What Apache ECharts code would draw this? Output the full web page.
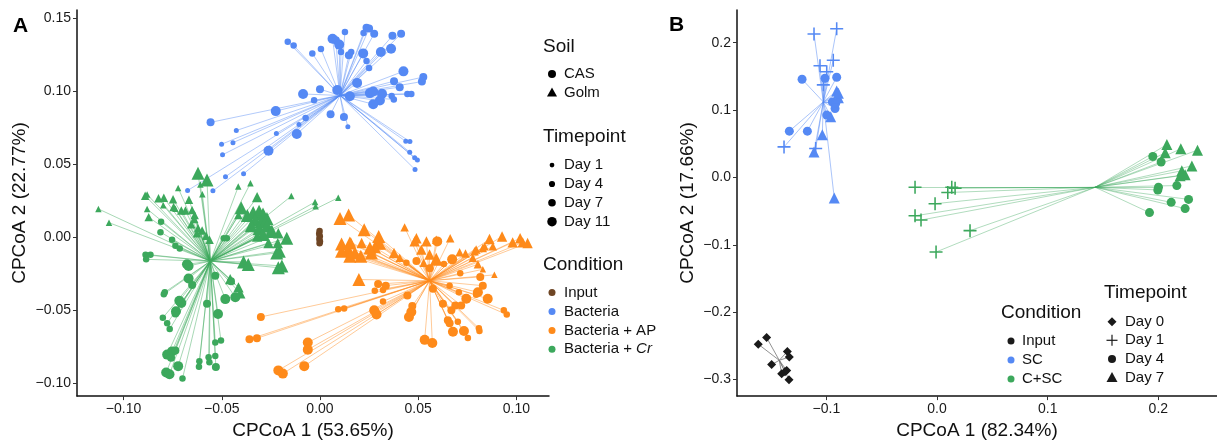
<!DOCTYPE html>
<html><head><meta charset="utf-8">
<script src="https://cdn.jsdelivr.net/npm/echarts@6/dist/echarts.min.js"></script>
<style>html,body{margin:0;padding:0;background:#fff}#chart{width:1217px;height:445px}</style>
</head><body><div id="chart"></div>
<script>
// ---------------- Panel A data: [CPCoA1, CPCoA2, day] ----------------
const bacteriaCAS = [
[-0.0164,0.134,4],[-0.0134,0.1314,4],[-0.0039,0.126,4],[0.0005,0.129,4],[0.0064,0.136,11],[0.0081,0.135,7],
[0.0098,0.132,11],[0.0107,0.127,4],[0.0127,0.1406,4],[0.0147,0.1247,7],[0.0159,0.1269,4],[0.022,0.126,11],
[0.0222,0.140,4],[0.0237,0.1435,7],[0.025,0.143,7],[0.0276,0.1395,7],[0.0237,0.1208,4],[0.025,0.116,4],
[0.031,0.127,11],[0.0362,0.1292,11],[0.0369,0.138,7],[0.0413,0.1395,7],[0.0425,0.1137,11],[0.0377,0.107,7],
[0.0406,0.1029,7],[0.0526,0.1098,7],[0.0519,0.1067,7],[0.0445,0.0982,4],[0.0465,0.0982,4],[0.0365,0.0968,4],
[0.0376,0.0945,4],[0.0316,0.0984,11],[0.0305,0.0937,11],[0.0271,0.0912,11],[0.0254,0.0988,11],[0.0271,0.0999,11],
[0.0189,0.1058,11],[0.0152,0.0966,11],[0.0088,0.1009,11],[-0.0086,0.0982,11],[-0.003,0.0939,4],[0.0054,0.0844,7],
[0.0122,0.0824,7],[0.0142,0.0757,1],[-0.0225,0.0865,11],[-0.0073,0.0817,4],[-0.0107,0.0773,1],[-0.0118,0.0708,11],
[-0.0222,0.0712,1],[-0.0262,0.0593,11],[0.0437,0.0658,1],[0.0458,0.0656,1],[0.0457,0.0584,1],[0.0482,0.0546,1],
[0.0496,0.053,1],[0.0484,0.0465,1],[-0.0557,0.0788,7],[-0.0426,0.0732,1],[-0.0501,0.0638,1],[-0.0443,0.0649,1],
[-0.0496,0.0566,1],[-0.0389,0.0436,1],[-0.0481,0.0416,1],[-0.0545,0.0319,1],[-0.0674,0.0321,1],[0.0,0.1015,7]
];
const crGolm = [
[-0.0621,0.044,11],[-0.0575,0.0393,11],[-0.0722,0.0339,1],[-0.0609,0.0362,1],[-0.0599,0.0296,1],[-0.0416,0.0348,1],
[-0.0354,0.0371,1],[-0.032,0.0276,7],[-0.0146,0.0283,1],[-0.089,0.0285,4],[-0.0822,0.0268,4],[-0.0795,0.0272,4],
[-0.0748,0.0261,4],[-0.0667,0.0258,4],[-0.088,0.0294,1],[-0.1128,0.0195,1],[-0.1074,0.0101,1],[-0.0401,0.0204,11],
[-0.088,0.0195,1],[-0.0872,0.0139,4],[-0.0745,0.0209,4],[-0.0706,0.0184,4],[-0.0685,0.0184,4],[-0.0651,0.0187,4],
[-0.0638,0.0153,4],[-0.0025,0.0243,1],[-0.0022,0.0214,1],[0.0093,0.0272,1],[-0.0798,0.022,1],[-0.0736,0.0197,1],
[-0.064,0.0126,4],[-0.0655,0.009,4],[-0.0621,0.0063,4],[-0.06,0.0047,4],[-0.0626,0.0029,4],[-0.058,0.0011,4],
[-0.0562,-0.0016,4],[-0.0415,0.0153,4],[-0.0398,0.0187,4],[-0.037,0.015,11],[-0.034,0.017,11],[-0.031,0.018,11],
[-0.029,0.016,11],[-0.033,0.012,11],[-0.030,0.011,11],[-0.027,0.013,11],[-0.035,0.008,11],[-0.031,0.006,11],
[-0.027,0.008,11],[-0.025,0.004,11],[-0.029,0.002,11],[-0.0212,0.0029,7],[-0.0169,-0.0005,11],[-0.022,-0.0106,11],
[-0.0207,-0.0094,11],[-0.0194,-0.0195,11],[-0.0389,-0.0168,11],[-0.0457,-0.0285,7],[-0.0415,-0.0342,7],
[-0.0406,-0.0382,7],[-0.0365,-0.0185,11],[-0.0212,-0.0207,11],[-0.0215,-0.0039,7],[-0.0262,-0.0038,7],
[-0.0245,0.0052,7],[-0.032,0.0007,7]
];
const crCAS = [
[-0.0809,0.0108,4],[-0.0812,0.0036,4],[-0.0753,-0.0016,4],[-0.0736,-0.0056,4],[-0.0714,-0.0076,4],[-0.0888,-0.0119,4],
[-0.0863,-0.0119,4],[-0.0885,-0.015,4],[-0.0677,-0.0184,11],[-0.0669,-0.0195,11],[-0.0669,-0.0281,11],[-0.0651,-0.0326,7],
[-0.049,-0.0005,4],[-0.0474,-0.0005,4],[-0.0533,-0.0263,7],[-0.079,-0.0375,4],[-0.0795,-0.0389,4],[-0.0716,-0.0433,11],
[-0.0706,-0.0449,11],[-0.0733,-0.0505,11],[-0.0736,-0.0521,7],[-0.08,-0.055,4],[-0.0778,-0.0588,4],[-0.0765,-0.0627,4],
[-0.0575,-0.0454,7],[-0.0519,-0.0524,11],[-0.0482,-0.0422,11],[-0.0431,-0.0409,11],[-0.0453,-0.0299,7],[-0.0504,-0.0706,4],
[-0.0533,-0.0719,4],[-0.0533,-0.0811,4],[-0.0567,-0.082,4],[-0.0563,-0.0854,4],[-0.053,-0.0887,7],[-0.0614,-0.0847,4],
[-0.0616,-0.0885,4],[-0.0778,-0.0802,11],[-0.0753,-0.078,11],[-0.0736,-0.0773,7],[-0.0758,-0.0824,7],[-0.0722,-0.0881,11],
[-0.0783,-0.0925,11],[-0.0766,-0.0937,11],[-0.07,-0.0966,4]
];
const apGolm = [
[0.0102,0.013,11],[0.0146,0.0153,11],[0.0225,0.0052,11],[0.0198,-0.0288,11],[0.0431,0.0069,4],[0.011,-0.0045,11],
[0.0152,-0.0038,11],[0.0144,-0.0083,11],[0.011,-0.0094,11],[0.0299,0.0007,11],[0.0291,-0.0038,11],[0.0284,-0.0072,7],
[0.031,-0.0049,7],[0.0254,-0.0072,11],[0.0157,-0.0034,7],[0.0212,-0.0038,7],[0.0178,-0.0106,11],[0.0152,-0.0128,11],
[0.0208,-0.0128,11],[0.0262,-0.0106,11],[0.0377,-0.0106,7],[0.0406,-0.0139,4],[0.0491,-0.0005,7],[0.0482,-0.0027,7],
[0.0542,-0.0027,7],[0.0592,-0.0016,4],[0.0663,-0.0005,4],[0.0592,-0.015,11],[0.0558,-0.0117,7],[0.0516,-0.0083,7],
[0.0528,-0.0173,4],[0.0863,-0.0011,7],[0.0927,0.0007,7],[0.0981,-0.0034,7],[0.1032,-0.0034,7],[0.1057,-0.0038,7],
[0.1019,-0.0005,7],[0.088,-0.0061,4],[0.0829,-0.0072,4],[0.0795,-0.0083,4],[0.0778,-0.0139,4],[0.0804,-0.0184,4],
[0.0888,-0.0256,1],[0.0829,-0.0218,1],[0.0838,-0.0061,4],[0.0787,-0.0094,4],[0.0741,-0.011,4],[0.0711,-0.0101,4]
];
const apCAS = [
[0.0597,-0.0027,11],[0.0673,-0.015,11],[0.0491,-0.0161,7],[0.044,-0.0173,4],[0.0816,-0.027,7],[0.0829,-0.033,7],
[0.0854,-0.042,11],[0.0804,-0.0375,11],[0.0714,-0.0245,4],[0.0575,-0.0352,7],[0.0626,-0.0454,7],[0.0669,-0.0499,7],
[0.0689,-0.0465,7],[0.0719,-0.0465,7],[0.0745,-0.042,11],[0.0651,-0.0566,7],[0.066,-0.0588,7],[0.0702,-0.0577,4],
[0.0677,-0.0645,11],[0.0733,-0.064,11],[0.0753,-0.0689,4],[0.0809,-0.0622,4],[0.0812,-0.064,4],[0.0936,-0.0499,4],
[0.0951,-0.0528,4],[0.0533,-0.0701,11],[0.0572,-0.0723,11],[0.0296,-0.0319,7],[0.0335,-0.033,7],[0.0279,-0.0364,4],
[0.0321,-0.0359,4],[0.0445,-0.0398,7],[0.0321,-0.0438,4],[0.0276,-0.0499,11],[0.0288,-0.0528,11],[0.047,-0.047,7],
[0.0465,-0.051,11],[0.0453,-0.0544,11],[0.0093,-0.0492,4],[0.0123,-0.0487,4],[-0.0062,-0.0719,11],[-0.0062,-0.0768,11],
[-0.008,-0.0881,11],[-0.0212,-0.091,11],[-0.0189,-0.0932,11],[0.0559,-0.0211,7],[0.0631,-0.0182,4],[0.066,-0.033,4],
[-0.0301,-0.0544,7],[-0.0359,-0.0696,7],[-0.0321,-0.069,7],[0.0707,-0.0375,4],[0.0795,-0.0393,4]
];
const inputA = [[-0.0002,0.0045,4],[-0.0004,0.0025,4],[-0.0001,0.0008,4],[-0.0003,-0.001,4],[0.0,-0.0028,4],[-0.0002,-0.004,4]];
const centroidBacteria = [0.0102, 0.0972];
const centroidAP = [0.0558, -0.0296];
const centroidCr = [-0.0558, -0.0162];
const centroidInputA = [-0.0002, 0.0];

// ---------------- Panel B data: [CPCoA1, CPCoA2] ----------------
const scDay1 = [[-0.1112,0.213],[-0.0907,0.2208],[-0.1058,0.1657],[-0.0938,0.174],[-0.0997,0.1569],[-0.1028,0.1374],[-0.1383,0.0453],[-0.1097,0.0429]];
const scDay4 = [[-0.122,0.1457],[-0.1013,0.1472],[-0.0907,0.1487],[-0.1335,0.0687],[-0.1172,0.0687],[-0.0997,0.0925],[-0.0946,0.1121],[-0.0922,0.1023],[-0.0916,0.11]];
const scDay7 = [[-0.0907,0.1282],[-0.0892,0.1184],[-0.0961,0.0902],[-0.1037,0.0633],[-0.1112,0.0376],[-0.0929,-0.0307],[-0.0892,0.125]];
const cscDay1 = [[-0.0199,-0.0146],[0.0133,-0.0146],[0.0163,-0.0161],[0.0097,-0.0224],[-0.0018,-0.039],[-0.0199,-0.057],[-0.0145,-0.0633],[0.0298,-0.079],[-0.0009,-0.1107]];
const cscDay4 = [[0.195,0.0311],[0.2025,0.0229],[0.2001,-0.0146],[0.1995,-0.0186],[0.2167,-0.0121],[0.2116,-0.037],[0.2273,-0.0326],[0.2242,-0.0463],[0.192,-0.0522]];
const cscDay7 = [[0.2077,0.0487],[0.2062,0.0365],[0.2203,0.0424],[0.2354,0.0405],[0.2303,0.0171],[0.2212,0.0098],[0.2242,0.004],[0.2197,0.0025]];
const inputDay0 = [[-0.1616,-0.2475],[-0.154,-0.2378],[-0.1495,-0.2778],[-0.1353,-0.2583],[-0.1335,-0.2666],[-0.1404,-0.2914],[-0.1374,-0.2885],[-0.1359,-0.2865],[-0.1338,-0.3002]];
const centroidSC = [-0.1028, 0.1121];
const centroidCSC = [0.1429, -0.0146];
const centroidInputB = [-0.1426, -0.2715];

// ---------------- ticks & labels ----------------
const ticksAx = [-0.10, -0.05, 0, 0.05, 0.10];
const ticksAy = [-0.10, -0.05, 0, 0.05, 0.10, 0.15];
const ticksBx = [-0.1, 0, 0.1, 0.2];
const ticksBy = [-0.3, -0.2, -0.1, 0, 0.1, 0.2];
const soilLabels = ['CAS', 'Golm'];
const timepointLabelsA = ['Day 1', 'Day 4', 'Day 7', 'Day 11'];
const conditionLabelsA = ['Input', 'Bacteria', 'Bacteria + AP', 'Bacteria + {i|Cr}'];
const conditionLabelsB = ['Input', 'SC', 'C+SC'];
const timepointLabelsB = ['Day 0', 'Day 1', 'Day 4', 'Day 7'];

const BLUE = '#5589F4', ORANGE = '#FE8A1A', GREEN = '#3CA85C', BROWN = '#6E4524', BLACK = '#1a1a1a';
const FONT = '"Liberation Sans", Arial, Helvetica, sans-serif';
const sizeA = {1: 5, 4: 6.5, 7: 8, 11: 10};
const PLUS = 'path://M4.4,0H5.6V4.4H10V5.6H5.6V10H4.4V5.6H0V4.4H4.4Z';

function fmt(d) { return v => (v < -1e-9 ? '\u2212' : '') + Math.abs(v).toFixed(d); }
function spider(data, c, color, idx, op) {
  return { type: 'lines', coordinateSystem: 'cartesian2d', xAxisIndex: idx, yAxisIndex: idx, silent: true, z: 2,
    data: data.map(p => ({ coords: [c, [p[0], p[1]]] })),
    lineStyle: { color: color, width: 1, opacity: op, curveness: 0 } };
}
function scatA(data, color, tri) {
  return { type: 'scatter', xAxisIndex: 0, yAxisIndex: 0, z: 3, data: data,
    symbol: tri ? 'triangle' : 'circle',
    symbolSize: v => sizeA[v[2]] * (tri ? 1.3 : 1),
    itemStyle: { color: color, opacity: 1 } };
}
function scatB(data, color, symbol, size) {
  return { type: 'scatter', xAxisIndex: 1, yAxisIndex: 1, z: 3, data: data, symbol: symbol, symbolSize: size,
    itemStyle: { color: color, opacity: 1 } };
}
function axis(grid, min, max, ticks, dec, name, gap, isY) {
  return { type: 'value', gridIndex: grid, min: min, max: max, splitLine: { show: false },
    name: name, nameLocation: 'middle', nameGap: gap,
    nameTextStyle: { fontFamily: FONT, fontSize: 19, color: '#111' },
    axisLine: { show: true, onZero: false, lineStyle: { color: '#111', width: 1.5 } },
    axisTick: { show: true, length: 4, customValues: ticks, lineStyle: { color: '#333', width: 1 } },
    axisLabel: { customValues: ticks, formatter: fmt(dec), fontFamily: FONT, fontSize: 14, color: '#1a1a1a', margin: isY ? 6 : 6 } };
}

const series = [
  spider(bacteriaCAS, centroidBacteria, BLUE, 0, 0.45),
  spider(apGolm.concat(apCAS), centroidAP, ORANGE, 0, 0.45),
  spider(crGolm.concat(crCAS), centroidCr, GREEN, 0, 0.45),
  spider(inputA, centroidInputA, BROWN, 0, 0.45),
  spider(scDay1.concat(scDay4, scDay7), centroidSC, BLUE, 1, 0.5),
  spider(cscDay1.concat(cscDay4, cscDay7), centroidCSC, GREEN, 1, 0.4),
  spider(inputDay0, centroidInputB, '#777', 1, 0.8),
  scatA(crGolm, GREEN, true), scatA(crCAS, GREEN, false),
  scatA(apGolm, ORANGE, true), scatA(apCAS, ORANGE, false),
  scatA(bacteriaCAS, BLUE, false), scatA(inputA, BROWN, false),
  scatB(scDay1, BLUE, PLUS, 13), scatB(scDay4, BLUE, 'circle', 9), scatB(scDay7, BLUE, 'triangle', 11),
  scatB(cscDay1, GREEN, PLUS, 13), scatB(cscDay4, GREEN, 'circle', 9), scatB(cscDay7, GREEN, 'triangle', 11),
  scatB(inputDay0, BLACK, 'diamond', 9)
];

// ---------------- legends (graphic) ----------------
const gr = [];
function text(x, y, t, size, opt) {
  gr.push(Object.assign({ type: 'text', x: x, y: y, silent: true,
    style: { text: t, fontFamily: FONT, fontSize: size, fill: '#111', verticalAlign: 'middle', align: 'left',
      rich: { i: { fontStyle: 'italic', fontFamily: FONT, fontSize: size, fill: '#111' } } } }, opt || {}));
}
function dot(cx, cy, d, color) { gr.push({ type: 'circle', silent: true, shape: { cx: cx, cy: cy, r: d / 2 }, style: { fill: color } }); }
function tri(cx, cy, w, color) {
  const h = w * 0.9;
  gr.push({ type: 'polygon', silent: true, shape: { points: [[cx, cy - h * 0.6], [cx - w / 2, cy + h * 0.4], [cx + w / 2, cy + h * 0.4]] }, style: { fill: color } });
}
function diamond(cx, cy, w, color) {
  gr.push({ type: 'polygon', silent: true, shape: { points: [[cx, cy - w / 2], [cx + w / 2, cy], [cx, cy + w / 2], [cx - w / 2, cy]] }, style: { fill: color } });
}
function plus(cx, cy, w, color) {
  gr.push({ type: 'line', silent: true, shape: { x1: cx - w / 2, y1: cy, x2: cx + w / 2, y2: cy }, style: { stroke: color, lineWidth: 1.2 } });
  gr.push({ type: 'line', silent: true, shape: { x1: cx, y1: cy - w / 2, x2: cx, y2: cy + w / 2 }, style: { stroke: color, lineWidth: 1.2 } });
}
// panel labels
text(13, 26, 'A', 21, { style: { text: 'A', fontFamily: FONT, fontSize: 21, fontWeight: 'bold', fill: '#000', verticalAlign: 'middle' } });
text(669, 25, 'B', 21, { style: { text: 'B', fontFamily: FONT, fontSize: 21, fontWeight: 'bold', fill: '#000', verticalAlign: 'middle' } });
// panel A legend
const LAx = 552, LAt = 564;
text(543, 47, 'Soil', 19);
const soilY = [74, 93];
dot(LAx, soilY[0], 8, '#000'); tri(LAx, soilY[1], 10, '#000');
soilLabels.forEach((s, i) => text(LAt, soilY[i], s, 15));
text(543, 137, 'Timepoint', 19);
const tpY = [165, 184, 202.7, 221.7];
timepointLabelsA.forEach((s, i) => { dot(LAx, tpY[i], sizeA[[1, 4, 7, 11][i]] * 0.95, '#000'); text(LAt, tpY[i], s, 15); });
text(543, 265, 'Condition', 19);
const cY = [292.5, 311.5, 330.5, 349.3];
const condColorsA = [BROWN, BLUE, ORANGE, GREEN];
conditionLabelsA.forEach((s, i) => { dot(LAx, cY[i], 7, condColorsA[i]); text(LAt, cY[i], s, 15); });
// panel B legend
text(1001, 313, 'Condition', 19);
const cbY = [341, 360, 379];
const condColorsB = [BLACK, BLUE, GREEN];
conditionLabelsB.forEach((s, i) => { dot(1011, cbY[i], 7, condColorsB[i]); text(1022, cbY[i], s, 15); });
text(1104, 292.7, 'Timepoint', 19);
const tbY = [321.7, 340.3, 359, 378];
diamond(1112, tbY[0], 9, BLACK); plus(1112, tbY[1], 11, BLACK); dot(1112, tbY[2], 8, BLACK); tri(1112, tbY[3], 11, BLACK);
timepointLabelsB.forEach((s, i) => text(1125, tbY[i], s, 15));

const chart = echarts.init(document.getElementById('chart'), null, { renderer: 'canvas' });
chart.setOption({
  animation: false,
  backgroundColor: '#fff',
  grid: [
    { left: 77, top: 10, width: 472, height: 392, containLabel: false },
    { left: 737, top: 10, width: 480, height: 392, containLabel: false }
  ],
  xAxis: [
    axis(0, -0.1237, 0.1166, ticksAx, 2, 'CPCoA 1 (53.65%)', 21, false),
    axis(1, -0.1808, 0.2530, ticksBx, 1, 'CPCoA 1 (82.34%)', 21, false)
  ],
  yAxis: [
    axis(0, -0.1086, 0.1557, ticksAy, 2, 'CPCoA 2 (22.77%)', 48, true),
    axis(1, -0.3246, 0.2485, ticksBy, 1, 'CPCoA 2 (17.66%)', 40, true)
  ],
  series: series,
  graphic: gr
});
</script></body></html>
